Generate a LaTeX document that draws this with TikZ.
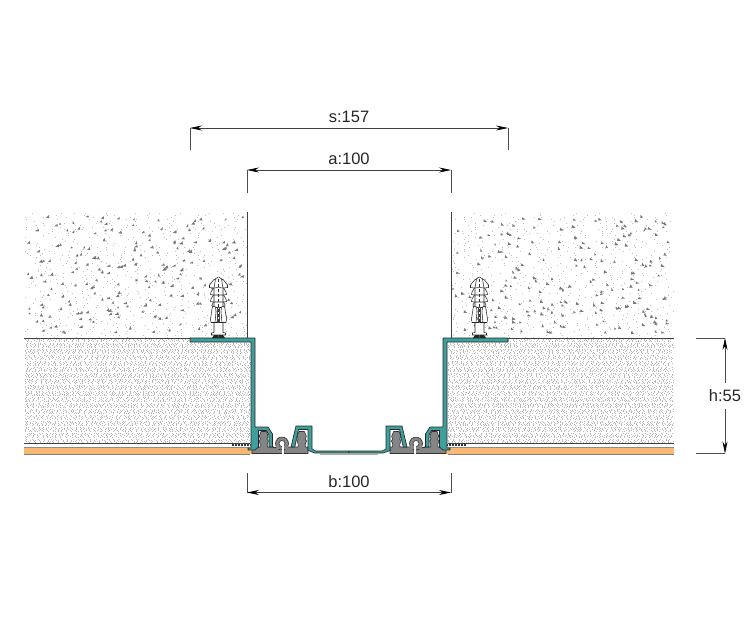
\documentclass[tikz,border=0pt]{standalone}
\usepackage{fontspec}
\setmainfont{Liberation Sans}
\usetikzlibrary{arrows.meta}
\definecolor{teal1}{HTML}{3F9F9C}
\definecolor{orange1}{HTML}{F9B973}
\definecolor{gray1}{HTML}{858585}
\tikzset{
  dim/.style={line width=0.7pt, draw=black!75, {Stealth[length=12pt,width=5pt,black]}-{Stealth[length=12pt,width=5pt,black]}},
  ext/.style={line width=0.7pt, draw=black!70},
  dimtext/.style={font=\fontsize{16.5}{18}\selectfont, text=black!85, inner sep=1pt},
  edge1/.style={line width=0.7pt, draw=black!75},
  steel/.style={fill=teal1, draw=black!85, line width=0.65pt, line join=round},
  rubber/.style={fill=gray1, draw=black!80, line width=0.6pt, line join=round},
  anchor1/.style={fill=white, draw=black!85, line width=0.55pt, line join=round},
}
\begin{document}
\begin{tikzpicture}[x=1pt, y=-1pt]
  \useasboundingbox (0, 0) rectangle (750, 635);
  \pgfmathsetseed{4127}

  % both sides of the joint
  \foreach \side in {1, -1} {
    \begin{scope}[shift={(349, 0)}, xscale=\side, shift={(-349, 0)}]
      % concrete
      \foreach \yy in {213, 215, ..., 337} {
        \pgfmathsetmacro\oa{5+34*rnd}
        \pgfmathsetmacro\ob{5+34*rnd}
        \pgfmathsetmacro\oc{5+34*rnd}
        \pgfmathsetmacro\od{5+34*rnd}
        \pgfmathsetmacro\oe{40*rnd}
        \draw[black!25, line width=0.9pt, dash pattern=on 0.9pt off \oa pt on 0.9pt off \ob pt on 0.9pt off \oc pt on 0.9pt off \od pt, dash phase=\oe pt]
          (25, \yy) -- (246.5, \yy);
      }
      \fill[black!52] \foreach \i in {1,...,200} {
        ({26+218*rnd}, {216+118*rnd}) -- ++({2+2*rnd}, {0.6*rnd}) -- ++({-1.2*rnd}, {-2-1.5*rnd}) -- cycle};
      % screed
      \foreach \yy in {339.5, 340.7, ..., 443} {
        \pgfmathsetmacro\oa{1+4.5*rnd}
        \pgfmathsetmacro\ob{1+4.5*rnd}
        \pgfmathsetmacro\oc{1+4.5*rnd}
        \pgfmathsetmacro\od{1+4.5*rnd}
        \pgfmathsetmacro\oe{1+4.5*rnd}
        \pgfmathsetmacro\of{1+4.5*rnd}
        \pgfmathsetmacro\og{30*rnd}
        \draw[black!27, line width=0.9pt, dash pattern=on 0.9pt off \oa pt on 0.9pt off \ob pt on 0.9pt off \oc pt on 0.9pt off \od pt on 0.9pt off \oe pt on 0.9pt off \of pt, dash phase=\og pt]
          (25, \yy) -- (250, \yy);
      }
      % floor layers
      \fill[orange1] (24, 448) rectangle (252, 453.7);
      \draw[edge1] (24, 338) -- (190, 338);
      \draw[edge1] (24, 443.5) -- (250, 443.5);
      \draw[edge1, draw=black!45] (24, 447.8) -- (250, 447.8);
      \draw[edge1, draw=black!50, line width=0.5pt] (24, 454) -- (250, 454);
      \draw[line width=1.6pt, black!80, dash pattern=on 2pt off 1pt] (232, 445) -- (251, 445);

      % rubber base and plugs
      \draw[rubber] (252, 453.5) -- (252, 448) -- (258.5, 447.5) -- (260, 447)
        -- (260.2, 444) -- (259, 441) -- (260.5, 439) -- (259.2, 436.5) -- (261, 431.5)
        -- (266.4, 431.5) -- (268.2, 436.5) -- (266.9, 439) -- (268.4, 441) -- (267.2, 444) -- (267.4, 447)
        -- (274, 447) -- (274, 453.5) -- cycle;
      \draw[rubber] (273, 447) -- (283, 447) -- (283, 453.5) -- (273, 453.5);
      \draw[rubber] (284, 453.5) -- (284, 447) -- (298, 447)
        -- (298.2, 444) -- (296.8, 441) -- (298.3, 439) -- (297, 436.5) -- (299, 431.5)
        -- (304.4, 431.5) -- (306.4, 436.5) -- (305.1, 439) -- (306.6, 441) -- (305.2, 444) -- (305.4, 447)
        -- (308, 447) -- (308, 453.5) -- cycle;
      \draw[rubber] (282, 443.5) circle (6.5);
      \fill[gray1] (276, 446) rectangle (288, 449);
      \draw[fill=white, draw=black!80, line width=0.6pt] (282, 443.5) circle (3);
      \fill[white] (281.6, 444) rectangle (283.6, 453.8);

      % steel profile
      \draw[steel] (190, 338) -- (255, 338) -- (255, 427) -- (268, 427) -- (272.5, 434)
        -- (272.5, 447) -- (269, 447) -- (269, 435) -- (266.5, 430.5) -- (258.5, 430.5)
        -- (258.5, 447) -- (255, 450) -- (248, 450) -- (248, 448) -- (251, 448) -- (251, 342)
        -- (190, 342) -- cycle;
      \draw[steel] (291, 447) -- (296, 426) -- (312, 426) -- (312, 449) -- (316, 451)
        -- (349, 451) -- (349, 453) -- (315, 453) -- (308, 450.5) -- (308, 429.5) -- (298.5, 429.5)
        -- (294.8, 447) -- cycle;
      \fill[black!35] (320, 454.4) rectangle (349, 455);

      % anchor
      \begin{scope}[shift={(218.5, 0)}]
        \foreach \s in {1, -1} {
          \begin{scope}[xscale=\s]
            \draw[anchor1] (0, 277) -- (5, 280) -- (9, 285) -- (9, 287.5) -- (5, 288) -- (7.5, 292)
              -- (8, 294.5) -- (5, 295) -- (7.5, 299) -- (8, 301.5) -- (5, 302) -- (6.5, 305) -- (6, 307.5) -- (0, 307.5);
            \draw[anchor1] (3, 307) -- (6, 306) -- (8, 319) -- (7.5, 322.5) -- (3.5, 322.5) -- (2.5, 312) -- cycle;
            \draw[anchor1] (0, 322.5) -- (4.5, 322.5) -- (4.5, 332.5) -- (7, 333) -- (7, 335) -- (0, 335);
            \fill[black!85] (0, 335) -- (4.5, 335) -- (6.5, 338) -- (0, 338) -- cycle;
            \draw[anchor1, fill=none] (0, 287.5) -- (5, 288) (0, 295) -- (5, 295) (0, 302) -- (5, 302);
            \draw[anchor1, fill=none] (3, 279) -- (4.5, 288) -- (4.5, 307);
          \end{scope}
        }
        \draw[line width=1.3pt, black!80, dash pattern=on 3pt off 2pt] (0, 279) -- (0, 322);
        \draw[line width=0.5pt, black!70] (1, 307) -- (1, 322) (-1, 307) -- (-1, 322);
      \end{scope}

      % wall of the opening
      \draw[edge1] (247, 212) -- (247, 338);
    \end{scope}
  }

  % ends of the dimensions
  \coordinate (SL) at (190, 128);
  \coordinate (SR) at (508, 128);
  \coordinate (AL) at (247, 170);
  \coordinate (AR) at (451, 170);
  \coordinate (BL) at (247, 492.5);
  \coordinate (BR) at (451, 492.5);
  \coordinate (HT) at (725, 338);
  \coordinate (HB) at (725, 453.5);

  \node[dimtext] (S) at (349, 116.5) {s:157};
  \node[dimtext] (A) at (349, 158.5) {a:100};
  \node[dimtext] (B) at (349, 481.5) {b:100};
  \node[dimtext, minimum height=25pt] (H) at (725, 396) {h:55};

  % dimension lines
  \draw[dim] (SL) -- (SR);
  \draw[dim] (AL) -- (AR);
  \draw[dim] (BL) -- (BR);
  \draw[ext, {Stealth[length=12pt,width=5pt,black]}-] (HT) -- (H);
  \draw[ext, {Stealth[length=12pt,width=5pt,black]}-] (HB) -- (H);

  \draw[ext] (SL) -- ++(0, 22);
  \draw[ext] (SR) -- ++(0, 22);
  \draw[ext] (AL) -- ++(0, 23);
  \draw[ext] (AR) -- ++(0, 23);
  \draw[ext] (BL) -- ++(0, -19.5);
  \draw[ext] (BR) -- ++(0, -19.5);
  \draw[ext] (HT) -- ++(-29, 0);
  \draw[ext] (HB) -- ++(-29, 0);
\end{tikzpicture}
\end{document}
